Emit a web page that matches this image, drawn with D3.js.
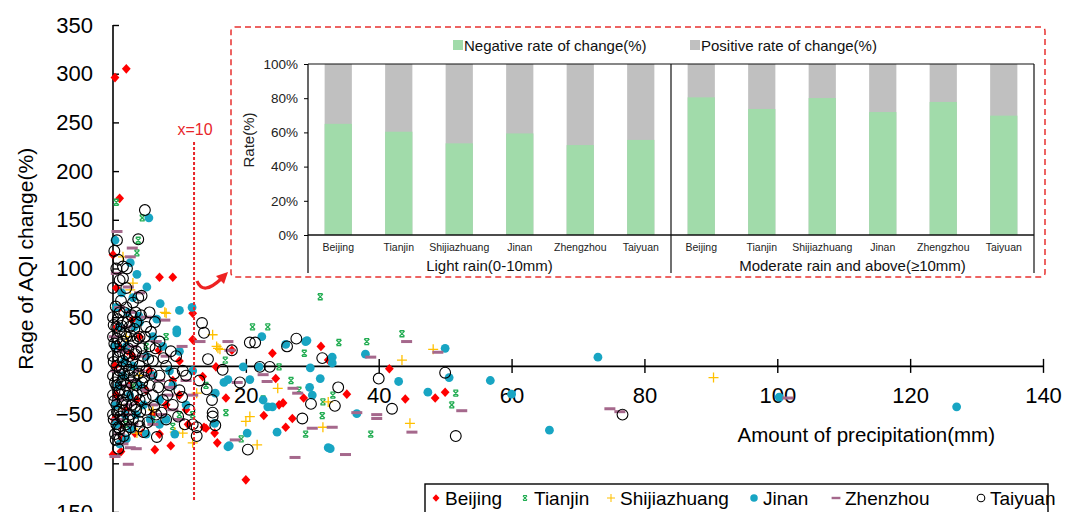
<!DOCTYPE html>
<meta charset="utf-8">
<head>
    <title>AQI change vs precipitation</title>
    <script type="text/javascript" src="https://cdn.jsdelivr.net/npm/d3@7"></script>
    <style>
        body { margin: 0; background: #fff; }
        svg text { font-family: "Liberation Sans", Arial, sans-serif; }
    </style>
</head>
<body>
<div id="chart"></div>
<script>
    // scatter data: [precipitation (mm), AQI change rate (%)]
    var beijing = [[0.3,296],[2,305],[1,172],[0,114],[7,91],[9,91],[12,54],[12,27],[2.9,47],[6.9,16],[10,5],[13.5,-11],[15.5,-1],[17.9,16],[24,13],[31.3,20],[32.4,6],[41.6,-3],[35.2,-29],[44,-34],[28.7,-33],[24.5,-13],[25,-40],[25.6,-38],[22.7,-51],[27,-54],[26,-63],[17,-33],[15.7,-79],[15.3,-69],[13.7,-63],[48.5,-33],[50,-27],[20,-117],[0,-91],[6.3,-86],[8.7,-82],[11.3,-60],[14,-64],[4.5,-69],[3.3,-69],[1,-61],[0.5,-30],[1.5,-10],[0.8,20],[2,-45],[3,10],[5,-25],[4,30],[8,-40],[9,-15],[1,60],[0.5,80],[2.5,-20],[6,-50],[10,-30],[11,-45],[1.2,-88],
        [0.3,0],[0.6,40],[1.4,-75],[2.2,15],[3.6,-35],[5.5,-5],[7,-70],[0.2,-55]];
    var tianjin = [[0.5,168],[4.4,152],[3.8,129],[3.6,116],[31.2,71],[21,40],[23.3,40],[34,24],[38.2,25],[28.8,13],[16.9,6],[25,-1],[26.8,-15],[28,-25],[31.6,-37],[33.1,-30],[31.5,-51],[29,-70],[38.8,-70],[19.3,-75],[17,-48],[22.6,-34],[51.6,-28],[51,-40],[43.5,33],[1,40],[3,-20],[6,-55],[8,30],[10,-50],[12,-50],[14,-20],[5,20],[2,-60],[9,-62]];
    var shijiazhuang = [[1.5,112],[2.6,78],[7.8,55],[15,32],[15.8,18],[43.5,6],[48.2,17],[44.7,-59],[20,-57],[21.7,-81],[10.5,-69],[3.6,-69],[12.6,-28],[32.4,-37],[16.1,17],[24.8,-23],[20.6,-52],[31.6,-63],[90.4,-12],[9.3,-68],[12,-79],[8,54],[15.6,20],[0.5,60],[1,-40],[2,30],[4,-10],[6,-45],[3,85]];
    var jinan = [[0.3,129],[2.6,106],[3.6,94],[5.4,152],[5.1,81],[7.1,64],[10,57],[11.9,60],[9.6,37],[9.6,34],[17.3,-14],[3.9,51],[22.4,30],[29,25],[26,22],[33,9],[33,3],[38,12],[43,-16],[29.6,-22],[30,-30],[22.6,-35],[24,-42],[24.7,-68],[32.4,-84],[17.3,-83],[47.4,-27],[50,18],[19.6,-1],[22,-1],[15.4,-28],[16.7,-17],[29.7,-2],[29.2,26],[20.6,-14],[23.3,-42],[31.2,-13],[36.7,-49],[20.2,-69],[17.5,-82],[32.7,-85],[15.3,-59],[50.6,-12],[56.8,-15],[60,-29],[65.7,-66],[73,9],[100.3,-32],[127,-42],[0.5,60],[1,40],[2,20],[1.5,-10],[2.5,-30],[3.5,-50],[4,-20],[5,10],[6,-10],[7,-35],[8,-55],[6,30],[4,45],[3,70],[0.5,-60],[1,-80],[2,-75],[5,-70],[9,-20],[11,-40],[10,15],[12,-5],[7,-60],[3,0],
        [0.2,20],[0.4,-40],[1.3,75],[2.2,55],[1.8,-50],[2.8,-65],[3.2,40],[4.6,-40],[5.6,-55],[6.6,48],[7.5,20],[8.5,-5],[9.3,-70],[0.8,-20],[1.7,5]];
    var zhenzhou = [[0.6,138],[2.9,121],[2.6,112],[2.3,81],[2.3,-101],[0.3,-93],[2.6,-84],[7.8,47],[10.4,20],[13.1,25],[17.3,25],[17.6,16],[22.6,-9],[23.2,-16],[27.1,-23],[27.8,-28],[30,-64],[33,-63],[35,-91],[27.4,-94],[36.7,-48],[39.7,-50],[39.7,-54],[38.8,9],[44.2,25],[45,-68],[48.9,14],[18.4,-76],[8.6,-22],[18.7,-17],[74.8,-44],[76.3,-47],[101.6,-33],[52.5,-46],[1,60],[2,40],[3,20],[4,-5],[5,-25],[6,-40],[7,-15],[2,-50],[1,-70],[3,-60],[8,10],[9,-45],[5,50],[4,75],[6,-60],[10,-55],[11,-15],[12,-30],[3.5,-85],[0.5,95],
        [0.2,30],[0.4,-5],[0.8,-35],[1.4,15],[1.8,-20],[2.4,-40],[3.2,-15],[4.2,10],[5.4,-10],[6.5,25],[7.2,-50],[8.4,-30],[0.6,-55],[1.5,-80],[2.6,55]];
    var taiyuan = [[0.6,129],[3.8,130],[4.8,160],[0.8,109],[1.5,102],[3.8,70],[4.3,72],[13.4,44],[13.7,34],[14.3,7],[17.9,16],[0.8,-85],[12.6,-63],[15,-48],[15,-52],[16.5,-4],[20.6,24],[21.4,24],[27.6,28],[26.2,20],[23.6,-1],[22.1,-1],[31.5,8],[40,-13],[42,-44],[33.9,-22],[29.8,-39],[33.4,-41],[28.5,-54],[20.3,-86],[15.4,-61],[12.6,-72],[6.6,-73],[10.4,-32],[14.1,-24],[19.1,-17],[14.9,-35],[50,-7],[51.6,-72],[76.7,-50],
        [0,50],[0,30],[0,10],[0,-10],[0,-30],[0,-50],[0.5,40],[0.5,20],[0.5,0],[0.5,-20],[0.5,-40],[0.5,-60],[1,55],[1,35],[1,15],[1,-5],[1,-25],[1,-45],[1,-65],[1.5,45],[1.5,25],[1.5,5],[1.5,-15],[1.5,-35],[1.5,-55],[2,60],[2,30],[2,0],[2,-20],[2,-40],[2,-60],[2.5,40],[2.5,10],[2.5,-10],[2.5,-50],[3,25],[3,-5],[3,-30],[3,-55],[3.5,45],[3.5,15],[3.5,-20],[3.5,-45],[4,30],[4,0],[4,-35],[4,-62],[4.5,10],[4.5,-25],[5,40],[5,-5],[5,-45],[5.5,20],[5.5,-20],[6,-30],[6,5],[6.5,-50],[7,-10],[7,25],[7.5,-35],[8,0],[8,-55],[8.5,-20],[9,-40],[9.5,10],[10,-25],[11,-10],[11.5,-45],[12,-60],[13,-15],[0.3,-70],[1,-75],[1.5,90],[0.5,100],[2,80],[3,65],[0,80],
        [0.1,42],[0.2,23],[0.1,4],[0.3,-17],[0.2,-36],[0.1,-55],[0.4,61],[0.7,48],[0.6,28],[0.8,9],[0.7,-12],[0.9,-29],[0.6,-47],[0.8,-63],[1.2,67],[1.3,41],[1.1,22],[1.3,-2],[1.2,-19],[1.4,-38],[1.1,-52],[1.7,55],[1.8,33],[1.9,12],[1.7,-8],[1.8,-27],[1.6,-46],[1.9,-67],[2.2,45],[2.3,18],[2.4,-4],[2.2,-31],[2.3,-55],[2.8,52],[2.7,31],[2.9,4],[2.7,-17],[2.8,-40],[2.6,-63],[3.2,38],[3.3,12],[3.1,-12],[3.3,-42],[3.7,28],[3.8,-8],[3.6,-29],[3.9,-57],[4.2,52],[4.3,18],[4.4,-17],[4.1,-47],[4.8,30],[4.7,-12],[4.9,-33],[5.3,7],[5.2,-58],[5.8,-8],[5.7,35],[6.2,-42],[6.4,18],[6.8,-22],[7.3,-48],[7.6,8],[8.2,-30],[8.7,15],[9.2,-8],[9.8,-52],[10.5,-5],[0.4,-76],[1.6,-72],[0.2,118],[1.0,88],[2.1,100],[3.4,55],[5.5,55],[6.3,45],[4.6,-68],[10.8,-60]];

    var cityNames = ["Beijing", "Tianjin", "Shijiazhuang", "Jinan", "Zhenzhou", "Taiyuan"];
    var xTicks = [20, 40, 60, 80, 100, 120, 140];
    var yTicks = [-150, -100, -50, 0, 50, 100, 150, 200, 250, 300, 350];
    var rainThreshold = 12.2; // where the dotted "x=10" line sits in the figure

    // inset: share of negative change (%), positive = remainder
    var insetCities = ["Beijing", "Tianjin", "Shijiazhuang", "Jinan", "Zhengzhou", "Taiyuan"];
    var insetGroups = ["Light rain(0-10mm)", "Moderate rain and above(\u226510mm)"];
    var lightNegative = [65, 60.4, 53.6, 59.4, 52.6, 55.6];
    var moderateNegative = [80.5, 73.7, 80.1, 71.9, 77.8, 69.8];
    var insetTicks = [0, 20, 40, 60, 80, 100];

    var width = 1065, height = 512;
    var svg = d3.select("#chart").append("svg")
        .attr("width", width)
        .attr("height", height);

    var x = d3.scaleLinear().domain([0, 140]).range([113, 1043]);
    var y = d3.scaleLinear().domain([-150, 350]).range([512, 25]);

    // y axis (ticks point inward)
    var yAxis = svg.append("g")
        .attr("transform", "translate(" + x(0) + ",0)")
        .call(d3.axisLeft(y).tickValues(yTicks).tickSizeInner(-6).tickSizeOuter(0).tickPadding(20));
    yAxis.select(".domain").attr("stroke-width", 1.6).attr("d", "M0," + y(350) + "V" + (height + 5));
    yAxis.selectAll("line").attr("stroke-width", 1.4);
    yAxis.selectAll("text").style("font-size", "22px").attr("fill", "#000");

    // x axis crossing at 0, ticks on both sides
    var xAxis = svg.append("g")
        .attr("transform", "translate(0," + y(0) + ")")
        .call(d3.axisBottom(x).tickValues(xTicks).tickSizeInner(7).tickSizeOuter(0).tickPadding(14));
    xAxis.select(".domain").attr("stroke-width", 1.6);
    xAxis.selectAll(".tick line").attr("y1", -7).attr("stroke-width", 1.4);
    xAxis.selectAll("text").style("font-size", "22px").attr("fill", "#000");

    svg.append("text")
        .attr("transform", "translate(33," + y(110) + ") rotate(-90)")
        .style("text-anchor", "middle")
        .style("font-size", "21px")
        .text("Rage of AQI change(%)");

    svg.append("text")
        .attr("x", x(140) - 48)
        .attr("y", y(-78))
        .style("text-anchor", "end")
        .style("font-size", "20.5px")
        .text("Amount of precipitation(mm)");

    // marker shapes
    var shapes = {
        Beijing: { d: "M0,-4.8L4.4,0L0,4.8L-4.4,0Z", fill: "#ff0000", stroke: "none" },
        Tianjin: { d: "M-2.6,-2.6L2.6,2.6M2.6,-2.6L-2.6,2.6M-2.4,-3H2.4M-2.4,3H2.4", fill: "none", stroke: "#22ad52", sw: 1.3 },
        Shijiazhuang: { d: "M-5,0H5M0,-5V5", fill: "none", stroke: "#ffc000", sw: 1.3 },
        Jinan: { circle: 4.4, fill: "#18a5c3", stroke: "none" },
        Zhenzhou: { d: "M-5.5,-1.5H5.5V1.5H-5.5Z", fill: "#a5688c", stroke: "none" },
        Taiyuan: { circle: 5.4, fill: "none", stroke: "#000", sw: 1.1 }
    };
    var seriesData = [beijing, tianjin, shijiazhuang, jinan, zhenzhou, taiyuan];

    function drawMarker(g, name, scale) {
        var s = shapes[name];
        var m;
        if (s.circle) {
            m = g.append("circle").attr("r", s.circle * scale);
        } else {
            m = g.append("path").attr("d", s.d).attr("transform", "scale(" + scale + ")");
        }
        m.attr("fill", s.fill).attr("stroke", s.stroke).attr("stroke-width", s.sw || 0);
        return m;
    }

    var plot = svg.append("g").attr("class", "points");
    seriesData.forEach(function (data, i) {
        var name = cityNames[i];
        plot.append("g").selectAll("g")
            .data(data)
            .enter()
            .append("g")
            .attr("transform", function (d) { return "translate(" + x(d[0]) + "," + y(d[1]) + ")"; })
            .each(function () { drawMarker(d3.select(this), name, 1); });
    });

    // dotted threshold line and label
    svg.append("line")
        .attr("x1", x(rainThreshold)).attr("x2", x(rainThreshold))
        .attr("y1", y(230)).attr("y2", y(-139))
        .attr("stroke", "#e8262a")
        .attr("stroke-width", 2)
        .attr("stroke-dasharray", "3,2");
    svg.append("text")
        .attr("x", x(rainThreshold) + 1)
        .attr("y", y(230) - 7)
        .style("text-anchor", "middle")
        .style("font-size", "16px")
        .attr("fill", "#e8262a")
        .text("x=10");

    // curved arrow pointing to the inset
    svg.append("path")
        .attr("d", "M197,281 Q203,296 221,279")
        .attr("fill", "none")
        .attr("stroke", "#ee2222")
        .attr("stroke-width", 3.2);
    svg.append("path")
        .attr("d", "M216,276 L228,272 L224,284 Z")
        .attr("fill", "#ee2222");

    // ---------- inset ----------
    svg.append("rect")
        .attr("x", 231).attr("y", 27)
        .attr("width", 814).attr("height", 250)
        .attr("rx", 4)
        .attr("fill", "#fff")
        .attr("stroke", "#e8312f")
        .attr("stroke-width", 1.5)
        .attr("stroke-dasharray", "6,4");

    var insetCats = [];
    insetGroups.forEach(function (g, gi) {
        insetCities.forEach(function (c) { insetCats.push(gi + "|" + c); });
    });
    var insetNeg = lightNegative.concat(moderateNegative);

    var bx = d3.scaleBand().domain(insetCats).range([308, 1034]).paddingInner(0.55).paddingOuter(0.275);
    var by = d3.scaleLinear().domain([0, 100]).range([235, 64]);

    var inset = svg.append("g");

    // positive (gray) full bar and negative (green) on top
    inset.selectAll(".pos")
        .data(insetCats)
        .enter().append("rect")
        .attr("x", function (d) { return bx(d); })
        .attr("width", bx.bandwidth())
        .attr("y", by(100))
        .attr("height", by(0) - by(100))
        .attr("fill", "#c0c0c0");
    inset.selectAll(".neg")
        .data(insetCats)
        .enter().append("rect")
        .attr("x", function (d) { return bx(d); })
        .attr("width", bx.bandwidth())
        .attr("y", function (d, i) { return by(insetNeg[i]); })
        .attr("height", function (d, i) { return by(0) - by(insetNeg[i]); })
        .attr("fill", "#a1dbaa");

    var iy = inset.append("g")
        .attr("transform", "translate(308,0)")
        .call(d3.axisLeft(by).tickValues(insetTicks).tickSizeInner(4).tickSizeOuter(0).tickPadding(6)
            .tickFormat(function (d) { return d + "%"; }));
    iy.select(".domain").attr("d", "M0,64V273").attr("stroke-width", 1.2);
    iy.selectAll("text").style("font-size", "13.5px").attr("fill", "#222");

    // frame lines
    var frameStroke = "#111";
    inset.append("line").attr("x1", 308).attr("x2", 1034).attr("y1", by(100)).attr("y2", by(100)).attr("stroke", frameStroke).attr("stroke-width", 1.2);
    inset.append("line").attr("x1", 308).attr("x2", 1034).attr("y1", by(0)).attr("y2", by(0)).attr("stroke", frameStroke).attr("stroke-width", 1.5);
    [6, 12].forEach(function (k) {
        var xx = k < 12 ? bx(insetCats[k]) - bx.step() * bx.paddingInner() / 2 : 1034;
        inset.append("line").attr("x1", xx).attr("x2", xx).attr("y1", by(100)).attr("y2", 273)
            .attr("stroke", frameStroke).attr("stroke-width", 1.2);
    });

    inset.selectAll(".cat")
        .data(insetCats)
        .enter().append("text")
        .attr("x", function (d) { return bx(d) + bx.bandwidth() / 2; })
        .attr("y", 251)
        .style("text-anchor", "middle")
        .style("font-size", "10.5px")
        .attr("fill", "#222")
        .text(function (d) { return d.split("|")[1]; });

    insetGroups.forEach(function (g, gi) {
        var first = bx(insetCats[gi * 6]), last = bx(insetCats[gi * 6 + 5]) + bx.bandwidth();
        inset.append("text")
            .attr("x", (first + last) / 2)
            .attr("y", 271)
            .style("text-anchor", "middle")
            .style("font-size", "15px")
            .attr("fill", "#111")
            .text(g);
    });

    inset.append("text")
        .attr("transform", "translate(254,140) rotate(-90)")
        .style("text-anchor", "middle")
        .style("font-size", "15px")
        .attr("fill", "#222")
        .text("Rate(%)");

    var insetLegend = [["Negative rate of change(%)", "#a1dbaa", 453], ["Positive rate of change(%)", "#c0c0c0", 690]];
    insetLegend.forEach(function (l) {
        inset.append("rect").attr("x", l[2]).attr("y", 40).attr("width", 10).attr("height", 10).attr("fill", l[1]);
        inset.append("text").attr("x", l[2] + 11).attr("y", 51).style("font-size", "15px").attr("fill", "#111").text(l[0]);
    });

    // ---------- bottom legend ----------
    var legend = svg.append("g");
    legend.append("rect")
        .attr("x", 425).attr("y", 484)
        .attr("width", 623).attr("height", 40)
        .attr("fill", "#fff")
        .attr("stroke", "#000")
        .attr("stroke-width", 1.4);
    var legendX = [436, 525, 611, 754, 836, 981];
    cityNames.forEach(function (name, i) {
        var g = legend.append("g").attr("transform", "translate(" + legendX[i] + ",498)");
        drawMarker(g, name, name === "Taiyuan" ? 0.7 : (name === "Jinan" ? 0.85 : 0.8));
        g.append("text").attr("x", 9).attr("y", 7).style("font-size", "19px").attr("fill", "#000").text(name);
    });
</script>
</body>
</html>
